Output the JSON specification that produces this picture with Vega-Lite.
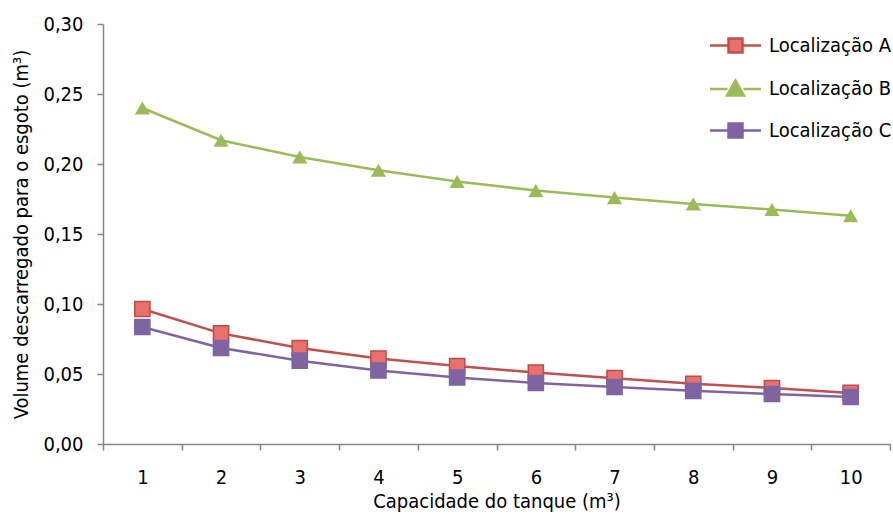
{
  "$schema": "https://vega.github.io/schema/vega-lite/v6.json",
  "autosize": "none",
  "width": 787,
  "height": 420,
  "padding": {"left": 103, "top": 24, "right": 3, "bottom": 70},
  "background": "white",
  "config": {
    "view": {"stroke": null},
    "font": "DejaVu Sans Condensed",
    "axis": {
      "labelFont": "DejaVu Sans Condensed",
      "titleFont": "DejaVu Sans Condensed",
      "labelFontSize": 20,
      "titleFontSize": 20,
      "titleFontWeight": "normal",
      "labelColor": "#000000",
      "titleColor": "#000000",
      "domainColor": "#868686",
      "tickColor": "#868686",
      "domainWidth": 1.5,
      "tickWidth": 1.5,
      "grid": false
    },
    "legend": {
      "labelFont": "DejaVu Sans Condensed",
      "labelFontSize": 20,
      "labelColor": "#000000",
      "labelLimit": 0
    }
  },
  "data": {
    "values": [
      {"cap": 1, "serie": "Localização A", "v": 0.0964},
      {"cap": 2, "serie": "Localização A", "v": 0.0790},
      {"cap": 3, "serie": "Localização A", "v": 0.0686},
      {"cap": 4, "serie": "Localização A", "v": 0.0610},
      {"cap": 5, "serie": "Localização A", "v": 0.0557},
      {"cap": 6, "serie": "Localização A", "v": 0.0510},
      {"cap": 7, "serie": "Localização A", "v": 0.0470},
      {"cap": 8, "serie": "Localização A", "v": 0.0430},
      {"cap": 9, "serie": "Localização A", "v": 0.0400},
      {"cap": 10, "serie": "Localização A", "v": 0.0365},
      {"cap": 1, "serie": "Localização B", "v": 0.2400},
      {"cap": 2, "serie": "Localização B", "v": 0.2170},
      {"cap": 3, "serie": "Localização B", "v": 0.2050},
      {"cap": 4, "serie": "Localização B", "v": 0.1955},
      {"cap": 5, "serie": "Localização B", "v": 0.1875},
      {"cap": 6, "serie": "Localização B", "v": 0.1810},
      {"cap": 7, "serie": "Localização B", "v": 0.1760},
      {"cap": 8, "serie": "Localização B", "v": 0.1715},
      {"cap": 9, "serie": "Localização B", "v": 0.1675},
      {"cap": 10, "serie": "Localização B", "v": 0.1630},
      {"cap": 1, "serie": "Localização C", "v": 0.0836},
      {"cap": 2, "serie": "Localização C", "v": 0.0686},
      {"cap": 3, "serie": "Localização C", "v": 0.0595},
      {"cap": 4, "serie": "Localização C", "v": 0.0525},
      {"cap": 5, "serie": "Localização C", "v": 0.0475},
      {"cap": 6, "serie": "Localização C", "v": 0.0436},
      {"cap": 7, "serie": "Localização C", "v": 0.0407},
      {"cap": 8, "serie": "Localização C", "v": 0.0380},
      {"cap": 9, "serie": "Localização C", "v": 0.0357},
      {"cap": 10, "serie": "Localização C", "v": 0.0336}
    ]
  },
  "encoding": {
    "x": {
      "field": "cap",
      "type": "ordinal",
      "scale": {"type": "band", "paddingInner": 0, "paddingOuter": 0},
      "axis": {
        "title": "Capacidade do tanque (m³)",
        "labelAngle": 0,
        "tickBand": "extent",
        "tickSize": 6,
        "labelPadding": 17,
        "titlePadding": 4
      }
    },
    "y": {
      "field": "v",
      "type": "quantitative",
      "scale": {"domain": [0, 0.3], "nice": false, "zero": true},
      "axis": {
        "title": "Volume descarregado para o esgoto (m³)",
        "values": [0, 0.05, 0.1, 0.15, 0.2, 0.25, 0.3],
        "labelExpr": "replace(format(datum.value, '.2f'), '.', ',')",
        "tickSize": 6,
        "labelPadding": 14,
        "titlePadding": 11
      }
    }
  },
  "layer": [
    {
      "mark": {"type": "line", "strokeWidth": 2.5},
      "encoding": {
        "color": {
          "field": "serie",
          "type": "nominal",
          "scale": {"domain": ["Localização A", "Localização B", "Localização C"], "range": ["#C0504D", "#9BBB59", "#8064A2"]},
          "legend": {
            "title": null,
            "orient": "none",
            "legendX": 621,
            "legendY": 10,
            "padding": 0,
            "symbolSize": 400,
            "symbolStrokeWidth": 2.5,
            "labelOffset": 22,
            "rowPadding": 17.5,
            "encode": {
              "symbols": {
                "update": {
                  "shape": {"signal": "datum.value === 'Localização B' ? 'M-2.55,0H-0.8M0.8,0H2.55M0,-0.85L0.85,0.65L-0.85,0.65Z' : 'M-2.55,0H-0.7M0.7,0H2.55M-0.7,-0.7H0.7V0.7H-0.7Z'"},
                  "fill": {"signal": "datum.value === 'Localização A' ? '#E8716E' : datum.value === 'Localização B' ? '#9BBB59' : '#8064A2'"},
                  "stroke": {"signal": "datum.value === 'Localização A' ? '#C0504D' : datum.value === 'Localização B' ? '#9BBB59' : '#8064A2'"},
                  "strokeWidth": {"value": 2.5},
                  "opacity": {"value": 1}
                }
              }
            }
          }
        }
      }
    },
    {
      "transform": [{"filter": "datum.serie !== 'Localização B'"}],
      "mark": {"type": "point", "shape": "square", "filled": true, "opacity": 1, "strokeWidth": 1.5, "size": 230},
      "encoding": {
        "fill": {
          "field": "serie",
          "type": "nominal",
          "scale": {"domain": ["Localização A", "Localização B", "Localização C"], "range": ["#E8716E", "#9BBB59", "#8064A2"]},
          "legend": null
        },
        "stroke": {
          "field": "serie",
          "type": "nominal",
          "scale": {"domain": ["Localização A", "Localização B", "Localização C"], "range": ["#BE4B48", "#9BBB59", "#8064A2"]},
          "legend": null
        }
      }
    },
    {
      "transform": [{"filter": "datum.serie === 'Localização B'"}],
      "mark": {"type": "point", "shape": "triangle-up", "filled": true, "opacity": 1, "size": 230, "color": "#9BBB59"},
      "encoding": {}
    }
  ]
}
